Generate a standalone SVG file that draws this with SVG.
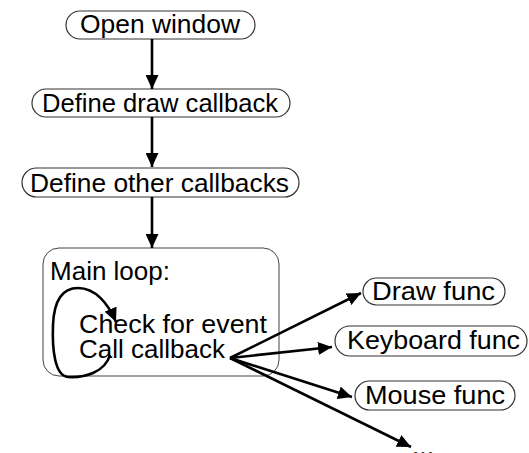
<svg xmlns="http://www.w3.org/2000/svg" width="529" height="453" viewBox="0 0 529 453">
<style>
.pill{fill:#fff;stroke:#333;stroke-width:1.2}
.box{fill:#fff;stroke:#444;stroke-width:1}
text{font-family:"Liberation Sans",Arial,sans-serif;font-size:26px;fill:#000}
.c{fill:none;stroke:#000;stroke-width:2.6}
</style>
<defs>
<marker id="ah" markerUnits="userSpaceOnUse" markerWidth="15" markerHeight="13" refX="14" refY="6.5" orient="auto">
<path d="M0,0 L14,6.5 L0,13 z" fill="#000"/>
</marker>
</defs>
<rect width="529" height="453" fill="#fff"/>
<g id="main-loop">
<rect class="box" x="43" y="248" width="236" height="128" rx="16"/>
<text x="50" y="280" textLength="120" lengthAdjust="spacingAndGlyphs">Main loop:</text>
<text x="79" y="333" textLength="188" lengthAdjust="spacingAndGlyphs">Check for event</text>
<text x="79" y="358" textLength="146" lengthAdjust="spacingAndGlyphs">Call callback</text>
</g>
<g id="open-window">
<rect class="pill" x="66" y="11" width="189" height="28" rx="14"/>
<text x="80" y="33" textLength="160" lengthAdjust="spacingAndGlyphs">Open window</text>
</g>
<g id="define-draw">
<rect class="pill" x="32" y="89" width="258" height="28" rx="14"/>
<text x="42" y="112" textLength="236" lengthAdjust="spacingAndGlyphs">Define draw callback</text>
</g>
<g id="define-other">
<rect class="pill" x="22" y="168" width="277" height="29" rx="14.5"/>
<text x="30" y="192" textLength="259" lengthAdjust="spacingAndGlyphs">Define other callbacks</text>
</g>
<g id="draw-func">
<rect class="pill" x="363" y="278" width="142" height="27" rx="13.5"/>
<text x="372" y="300" textLength="123" lengthAdjust="spacingAndGlyphs">Draw func</text>
</g>
<g id="keyboard-func">
<rect class="pill" x="335" y="326" width="192" height="30" rx="15"/>
<text x="347" y="349" textLength="173" lengthAdjust="spacingAndGlyphs">Keyboard func</text>
</g>
<g id="mouse-func">
<rect class="pill" x="355" y="381" width="160" height="29" rx="14.5"/>
<text x="365" y="404" textLength="140" lengthAdjust="spacingAndGlyphs">Mouse func</text>
</g>
<g id="more">
<text x="412" y="455" textLength="22" lengthAdjust="spacingAndGlyphs">...</text>
</g>
<g id="connectors">
<line class="c" x1="152" y1="39" x2="152" y2="89" marker-end="url(#ah)"/>
<line class="c" x1="152" y1="117" x2="152" y2="167" marker-end="url(#ah)"/>
<line class="c" x1="152" y1="197" x2="152" y2="248" marker-end="url(#ah)"/>
<path class="c" d="M110 355 C105 372,85 378,68 377 C55 376,52 350,53 325 C54 300,62 288,78 288 C95 288,108 303,116 322" marker-end="url(#ah)"/>
<line class="c" x1="230" y1="358" x2="361" y2="293" marker-end="url(#ah)"/>
<line class="c" x1="230" y1="358" x2="332" y2="347" marker-end="url(#ah)"/>
<line class="c" x1="230" y1="358" x2="352" y2="397" marker-end="url(#ah)"/>
<line class="c" x1="230" y1="358" x2="411" y2="447" marker-end="url(#ah)"/>
</g>
</svg>
